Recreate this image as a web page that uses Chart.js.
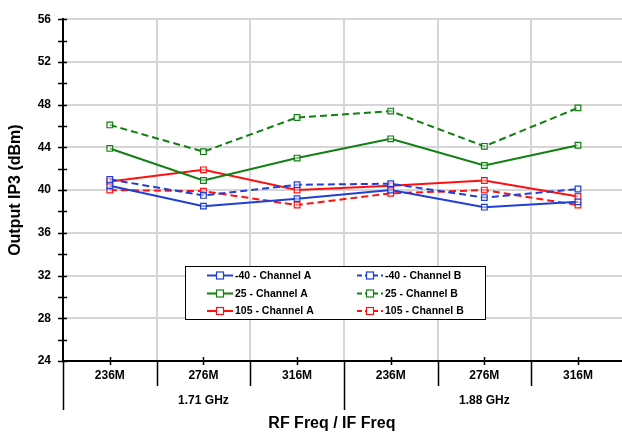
<!DOCTYPE html>
<html>
<head>
<meta charset="utf-8">
<script src="https://cdn.jsdelivr.net/npm/chart.js@4.4.1/dist/chart.umd.min.js"></script>
<style>
  html, body { margin: 0; padding: 0; overflow: hidden; background: #fff; }
  #wrap { position: absolute; left: 0; top: 0; width: 630px; height: 436px; }
</style>
</head>
<body>
<div id="wrap"><canvas id="myChart" width="630" height="436"></canvas></div>
<script>
// categories (IF freq) and groups (RF freq)
const categories = ['236M', '276M', '316M', '236M', '276M', '316M']
const groups = ['1.71 GHz', '1.88 GHz']

// Output IP3 in dBm
const m40ChanA = [40.4, 38.5, 39.2, 40.0, 38.4, 38.9]
const m40ChanB = [41.0, 39.5, 40.5, 40.6, 39.3, 40.1]
const t25ChanA = [43.9, 40.9, 43.0, 44.8, 42.3, 44.2]
const t25ChanB = [46.1, 43.6, 46.8, 47.4, 44.1, 47.7]
const t105ChanA = [40.8, 41.9, 40.0, 40.4, 40.9, 39.4]
const t105ChanB = [40.0, 39.9, 38.6, 39.7, 40.0, 38.6]

const yMin = 24
const yMax = 56

const FONT = '"Liberation Sans", Arial, sans-serif'
const BLUE = '#1f3fd6'
const GREEN = '#108010'
const RED = '#ff1010'

function series(label, data, color, dashed) {
  return {
    label: label,
    data: data,
    borderColor: color,
    backgroundColor: 'rgba(255,255,255,0.5)',
    borderWidth: 2,
    borderDash: dashed ? [7, 4] : [],
    pointStyle: 'rect',
    pointRadius: 4,
    pointBorderWidth: 1.2,
    pointBorderColor: color,
    pointBackgroundColor: 'rgba(255,255,255,0.5)',
    tension: 0
  }
}

function line(ctx, x1, y1, x2, y2) {
  ctx.beginPath()
  ctx.moveTo(x1, y1)
  ctx.lineTo(x2, y2)
  ctx.stroke()
}

// ticks, category separators, group labels, legend
const decor = {
  id: 'decor',
  afterDraw(chart) {
    const ctx = chart.ctx
    const x = chart.scales.x
    const y = chart.scales.y
    const a = chart.chartArea
    const w = x.getPixelForValue(1) - x.getPixelForValue(0)
    ctx.save()
    ctx.strokeStyle = '#000'
    ctx.lineWidth = 1.5

    for (let v = yMin; v <= yMax; v += 2) {
      const py = Math.round(y.getPixelForValue(v)) + 0.5
      line(ctx, a.left - 5, py, a.left + 4, py)
    }

    categories.forEach((c, i) => {
      const px = Math.round(x.getPixelForValue(i)) + 0.5
      line(ctx, px, a.bottom - 4, px, a.bottom + 4)
    })

    for (let i = 0; i <= categories.length; i++) {
      const bx = Math.round(x.getPixelForValue(i) - w / 2) + 0.5
      line(ctx, bx, a.bottom, bx, i % 3 === 0 ? a.bottom + 49 : a.bottom + 25)
    }

    ctx.fillStyle = '#000'
    ctx.textAlign = 'center'
    ctx.textBaseline = 'middle'
    ctx.font = 'bold 12px ' + FONT
    categories.forEach((c, i) => {
      ctx.fillText(c, x.getPixelForValue(i), a.bottom + 15)
    })
    groups.forEach((g, k) => {
      const cx = (x.getPixelForValue(k * 3) + x.getPixelForValue(k * 3 + 2)) / 2
      ctx.fillText(g, cx, a.bottom + 40)
    })
    ctx.font = 'bold 16px ' + FONT
    ctx.fillText('RF Freq / IF Freq', (a.left + a.right) / 2 - 12, a.bottom + 63)

    // legend box
    const lx = 185.5, ly = 266.5, lw = 300, lh = 53
    ctx.fillStyle = '#fff'
    ctx.fillRect(lx, ly, lw, lh)
    ctx.lineWidth = 1
    ctx.strokeRect(lx, ly, lw, lh)
    const cols = [207, 357]
    const rows = [275.5, 293.5, 311]
    ctx.font = 'bold 10.5px ' + FONT
    ctx.textAlign = 'left'
    chart.data.datasets.forEach((ds, i) => {
      const cx = cols[i % 2]
      const cy = rows[Math.floor(i / 2)]
      ctx.strokeStyle = ds.borderColor
      ctx.lineWidth = 2
      ctx.setLineDash(ds.borderDash.length ? [5, 3] : [])
      line(ctx, cx, cy, cx + 26, cy)
      ctx.setLineDash([])
      ctx.lineWidth = 1.2
      ctx.fillStyle = '#fff'
      ctx.fillRect(cx + 9.5, cy - 3.5, 7, 7)
      ctx.strokeRect(cx + 9.5, cy - 3.5, 7, 7)
      ctx.fillStyle = '#000'
      ctx.fillText(ds.label, cx + 28, cy + 0.5)
    })
    ctx.restore()
  }
}

const ctx = document.getElementById('myChart')

const ip3Chart = new Chart(ctx, {
  type: 'line',
  data: {
    labels: categories,
    datasets: [
      series('-40 - Channel A', m40ChanA, BLUE, false),
      series('-40 - Channel B', m40ChanB, BLUE, true),
      series('25 - Channel A', t25ChanA, GREEN, false),
      series('25 - Channel B', t25ChanB, GREEN, true),
      series('105 - Channel A', t105ChanA, RED, false),
      series('105 - Channel B', t105ChanB, RED, true)
    ]
  },
  options: {
    responsive: false,
    animation: false,
    layout: { padding: { left: 0, right: 3, top: 17, bottom: 0 } },
    plugins: {
      legend: { display: false },
      tooltip: { enabled: false }
    },
    scales: {
      x: {
        offset: true,
        grid: { offset: true, color: '#d6d6d6', lineWidth: 2, drawTicks: false },
        border: { color: '#000', width: 2 },
        ticks: { display: false },
        afterFit: (s) => { s.height = 75 }
      },
      y: {
        min: yMin,
        max: yMax,
        ticks: {
          stepSize: 2,
          color: '#000',
          padding: 12,
          font: { family: FONT, size: 12, weight: 'bold' },
          callback: (v) => (v % 4 === 0 ? v : '')
        },
        grid: {
          drawTicks: false,
          lineWidth: 2,
          color: (c) => (c.tick && c.tick.value % 4 === 0 ? '#d6d6d6' : 'rgba(0,0,0,0)')
        },
        border: { color: '#000', width: 2 },
        title: {
          display: true,
          text: 'Output IP3 (dBm)',
          color: '#000',
          font: { family: FONT, size: 16, weight: 'bold' },
          padding: { top: 6, bottom: 0 }
        },
        afterFit: (s) => { s.width = 63 }
      }
    }
  },
  plugins: [decor]
})
</script>
</body>
</html>
